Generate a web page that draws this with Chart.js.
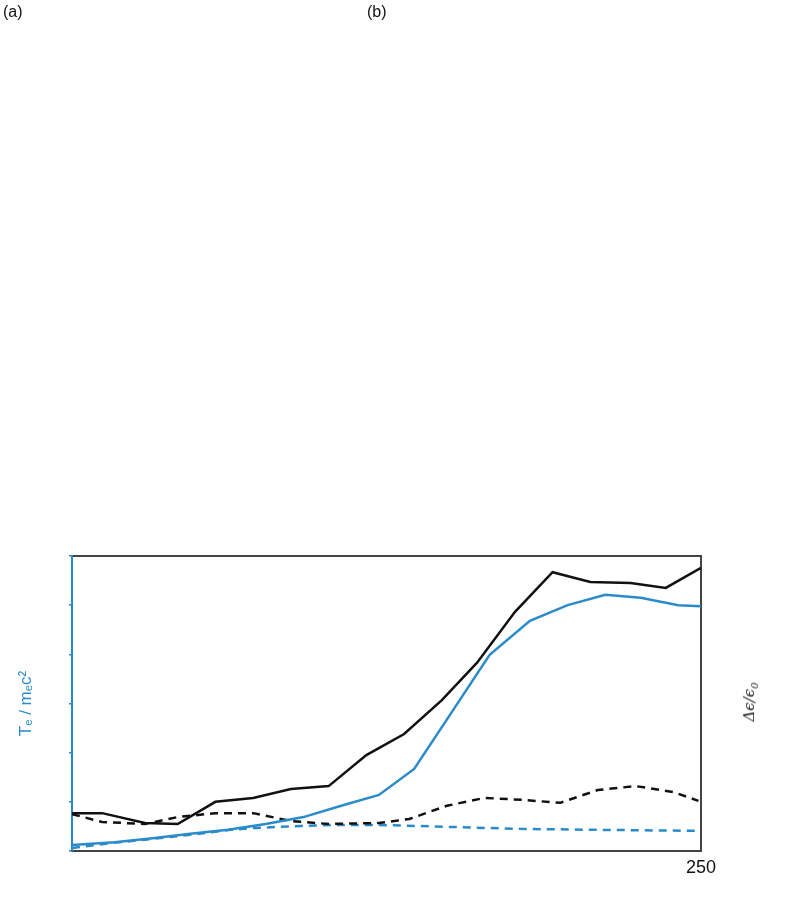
<!DOCTYPE html>
<html>
<head>
<meta charset="utf-8">
<script src="https://cdn.jsdelivr.net/npm/chart.js@4.4.1/dist/chart.umd.min.js"></script>
<style>
  body { margin: 0; background: #fff; }
  #wrap { position: relative; width: 789px; height: 904px; }
  .lbl { position: absolute; font-family: "Liberation Sans", Arial, sans-serif; font-size: 16px; color: #111; }
  #rlab { position: absolute; left: 750px; top: 702px; transform: translate(-50%, -50%) rotate(-90deg);
          font-family: "DejaVu Serif", serif; font-style: italic; font-size: 15px; color: #222; white-space: nowrap; }
</style>
</head>
<body>
<div id="wrap">
  <canvas id="chart" width="789" height="904"></canvas>
  <div class="lbl" style="left:3px;top:3px;">(a)</div>
  <div class="lbl" style="left:367px;top:3px;">(b)</div>
  <div id="rlab">Δϵ/ϵ<sub style="font-size:10px">0</sub></div>
</div>
<script>
// values (x in time units, y in axis units 0..6)
var blackSolidX = [0, 12, 29, 42, 57, 72, 87, 102, 117, 132, 147, 161, 176, 191, 206, 222, 236, 250];
var blackSolidY = [0.77, 0.77, 0.57, 0.55, 1.00, 1.08, 1.26, 1.32, 1.95, 2.38, 3.07, 3.83, 4.86, 5.67, 5.47, 5.45, 5.35, 5.76];

var blueSolidX = [0, 17, 32, 47, 62, 77, 92, 107, 122, 136, 151, 166, 182, 197, 212, 226, 241, 250];
var blueSolidY = [0.12, 0.18, 0.26, 0.35, 0.43, 0.55, 0.69, 0.92, 1.14, 1.67, 2.83, 3.99, 4.68, 5.00, 5.21, 5.15, 5.00, 4.98];

var blackDashX = [0, 12, 29, 42, 57, 72, 87, 102, 122, 134, 149, 164, 179, 194, 209, 224, 239, 249];
var blackDashY = [0.75, 0.59, 0.55, 0.69, 0.77, 0.77, 0.61, 0.55, 0.57, 0.65, 0.92, 1.08, 1.04, 0.98, 1.24, 1.32, 1.20, 1.02];

var blueDashX = [0, 15, 31, 47, 63, 73, 91, 103, 122, 150, 178, 210, 249];
var blueDashY = [0.06, 0.16, 0.24, 0.33, 0.43, 0.47, 0.51, 0.53, 0.53, 0.49, 0.45, 0.43, 0.41];

var xTickLabels = [250];

var BLUE = '#2a8bcb';
var BLACK = '#111111';
var FRAME = '#444444';

function pts(xs, ys) {
    return xs.map(function (x, i) { return { x: x, y: ys[i] }; });
}

var ctx = document.getElementById('chart');
var chart = new Chart(ctx, {
    type: 'line',
    data: {
        datasets: [{
            label: 'black solid',
            data: pts(blackSolidX, blackSolidY),
            borderColor: BLACK,
            borderWidth: 2.5,
            yAxisID: 'y2'
        }, {
            label: 'blue solid',
            data: pts(blueSolidX, blueSolidY),
            borderColor: BLUE,
            borderWidth: 2.5,
            yAxisID: 'y'
        }, {
            label: 'black dashed',
            data: pts(blackDashX, blackDashY),
            borderColor: BLACK,
            borderWidth: 2.5,
            borderDash: [8, 6],
            yAxisID: 'y2'
        }, {
            label: 'blue dashed',
            data: pts(blueDashX, blueDashY),
            borderColor: BLUE,
            borderWidth: 2.5,
            borderDash: [8, 6],
            yAxisID: 'y'
        }]
    },
    options: {
        responsive: false,
        animation: false,
        layout: { padding: { top: 556, left: 0, right: 0, bottom: 0 } },
        elements: { point: { radius: 0 }, line: { tension: 0 } },
        plugins: { legend: { display: false }, tooltip: { enabled: false } },
        scales: {
            x: {
                type: 'linear',
                position: 'bottom',
                min: 0,
                max: 250,
                afterBuildTicks: function (s) {
                    s.ticks = xTickLabels.map(function (v) { return { value: v }; });
                },
                afterFit: function (s) { s.height = 53; },
                grid: { drawOnChartArea: false, drawTicks: false },
                border: { color: FRAME, width: 2 },
                ticks: {
                    padding: 6,
                    maxRotation: 0,
                    color: '#111',
                    font: { family: 'Liberation Sans', size: 18 }
                }
            },
            xTop: {
                type: 'linear',
                position: 'top',
                min: 0,
                max: 250,
                afterFit: function (s) { s.height = 0; },
                grid: { drawOnChartArea: false, drawTicks: false },
                border: { color: FRAME, width: 2 },
                ticks: { display: false }
            },
            y: {
                position: 'left',
                min: 0,
                max: 6,
                afterFit: function (s) { s.width = 72; },
                grid: { drawOnChartArea: false, tickLength: 3, color: BLUE, lineWidth: 1.5 },
                border: { color: BLUE, width: 2 },
                ticks: { stepSize: 1, callback: function () { return ''; }, padding: 0 },
                title: {
                    display: true,
                    text: 'Tₑ / mₑc²',
                    color: BLUE,
                    padding: { top: 16, bottom: 0 },
                    font: { family: 'Liberation Sans', size: 17 }
                }
            },
            y2: {
                position: 'right',
                min: 0,
                max: 6,
                afterFit: function (s) { s.width = 88; },
                grid: { drawOnChartArea: false, drawTicks: false },
                border: { color: FRAME, width: 2 },
                ticks: { display: false }
            }
        }
    }
});
</script>
</body>
</html>
